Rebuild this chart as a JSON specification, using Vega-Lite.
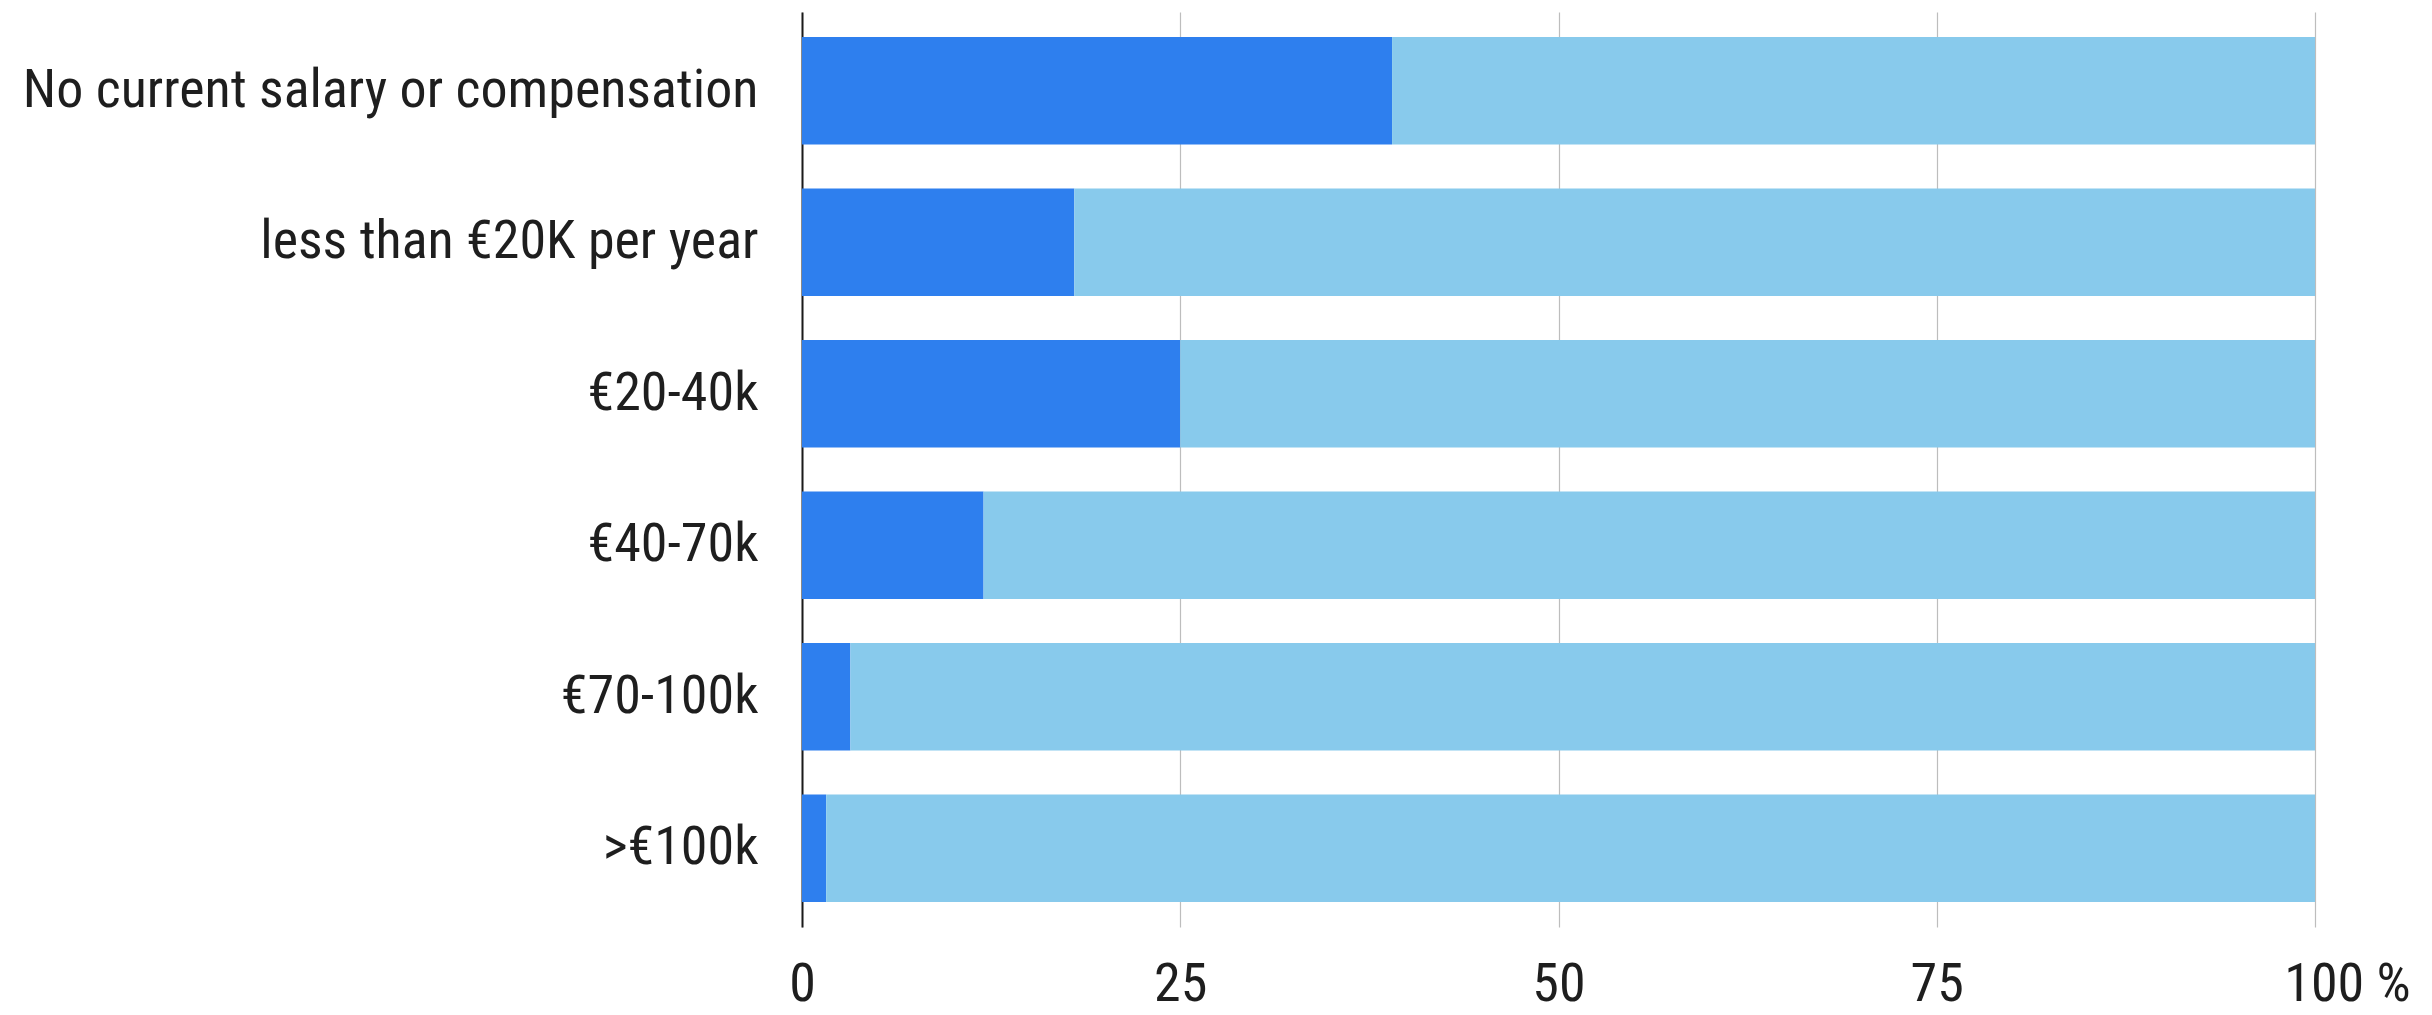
{
  "$schema": "https://vega.github.io/schema/vega-lite/v6.json",
  "width": 1513,
  "height": 915,
  "autosize": {"type": "none"},
  "padding": {"left": 802, "top": 12, "right": 117, "bottom": 88},
  "background": "white",
  "config": {
    "view": {"stroke": null},
    "font": "Roboto Condensed, Noto Sans Condensed, Open Sans Condensed, DejaVu Sans Condensed, sans-serif"
  },
  "data": {
    "values": [
      {"category": "No current salary or compensation", "series": "a", "order": 1, "value": 39.0},
      {"category": "No current salary or compensation", "series": "b", "order": 2, "value": 61.0},
      {"category": "less than €20K per year", "series": "a", "order": 1, "value": 18.0},
      {"category": "less than €20K per year", "series": "b", "order": 2, "value": 82.0},
      {"category": "€20-40k", "series": "a", "order": 1, "value": 25.0},
      {"category": "€20-40k", "series": "b", "order": 2, "value": 75.0},
      {"category": "€40-70k", "series": "a", "order": 1, "value": 12.0},
      {"category": "€40-70k", "series": "b", "order": 2, "value": 88.0},
      {"category": "€70-100k", "series": "a", "order": 1, "value": 3.2},
      {"category": "€70-100k", "series": "b", "order": 2, "value": 96.8},
      {"category": ">€100k", "series": "a", "order": 1, "value": 1.6},
      {"category": ">€100k", "series": "b", "order": 2, "value": 98.4}
    ]
  },
  "mark": {"type": "bar"},
  "encoding": {
    "y": {
      "field": "category",
      "type": "nominal",
      "sort": null,
      "scale": {"paddingInner": 0.29, "paddingOuter": 0.165},
      "axis": {
        "title": null,
        "ticks": false,
        "domainColor": "#1a1a1a",
        "domainWidth": 2,
        "labelFontSize": 54,
        "labelColor": "#1e1e1e",
        "labelPadding": 44,
        "labelLimit": 900
      }
    },
    "x": {
      "field": "value",
      "type": "quantitative",
      "stack": "zero",
      "scale": {"domain": [0, 100], "nice": false},
      "axis": {
        "title": null,
        "values": [0, 25, 50, 75, 100],
        "labelExpr": "datum.value == 100 ? '100 %' : datum.label",
        "labelOffset": {"condition": {"test": "datum.value == 100", "value": 32}, "value": 0},
        "domain": false,
        "ticks": false,
        "grid": true,
        "gridColor": "#bdbdbd",
        "gridWidth": 1.2,
        "labelFontSize": 54,
        "labelColor": "#1e1e1e",
        "labelPadding": 30,
        "labelFlush": false
      }
    },
    "color": {
      "field": "series",
      "type": "nominal",
      "scale": {"domain": ["a", "b"], "range": ["#2E7FEE", "#88CAEC"]},
      "legend": null
    },
    "order": {"field": "order", "type": "quantitative"}
  }
}
